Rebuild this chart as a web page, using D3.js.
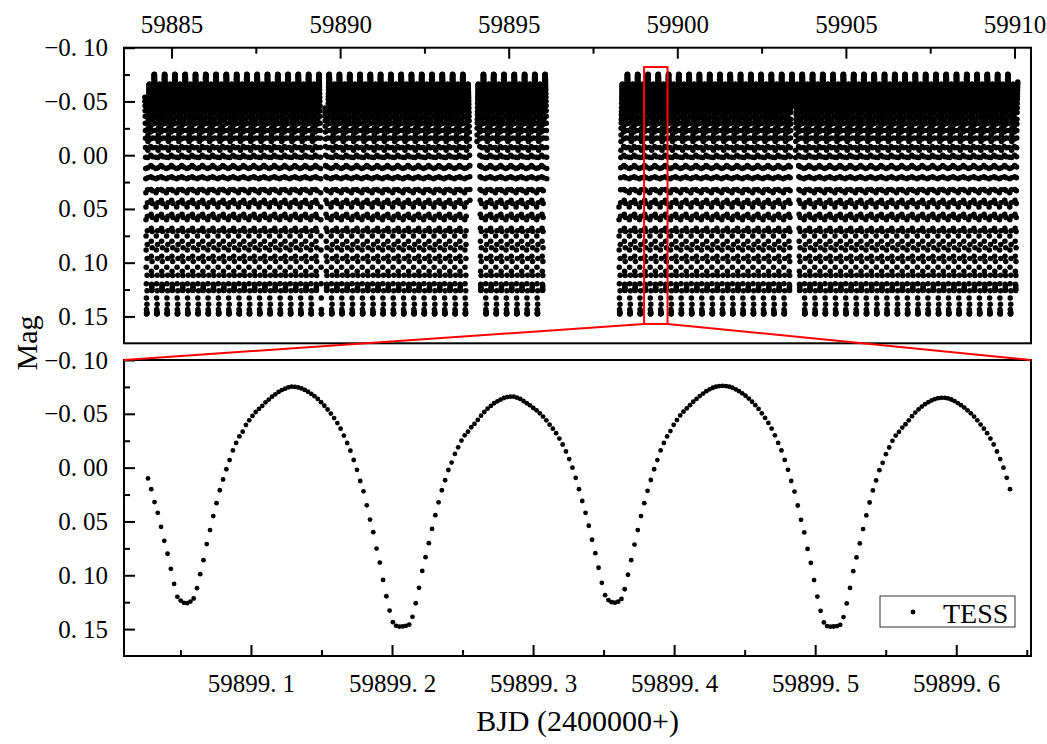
<!DOCTYPE html>
<html>
<head>
<meta charset="utf-8">
<script src="https://cdn.jsdelivr.net/npm/d3@7"></script>
<style>
  html, body { margin: 0; padding: 0; background: #fff; }
  svg { display: block; }
</style>
</head>
<body>
<svg id="chart" width="1047" height="744"></svg>
<script>
// TESS photometry: whole-sector light curve (top) and a zoomed stretch (bottom)

const cadence = 200 / 86400;      // days between exposures (200 s)
const zoomStart = 59899.027;      // BJD - 2400000 of the first point in the zoomed stretch
const period = 0.3050;            // orbital period in days, from the spacing of the minima

// magnitudes of consecutive exposures in the zoomed stretch
const zoomMags = [
  0.0100, 0.0200, 0.0320, 0.0420, 0.0550, 0.0680, 0.0800, 0.0940, 0.1080, 0.1200,
  0.1235, 0.1256, 0.1259, 0.1244, 0.1216, 0.1120, 0.0990, 0.0860, 0.0710, 0.0580,
  0.0450, 0.0330, 0.0210, 0.0110, 0.0015, -0.0070, -0.0160, -0.0230, -0.0290, -0.0334,
  -0.0396, -0.0440, -0.0480, -0.0517, -0.0545, -0.0573, -0.0607, -0.0632, -0.0659, -0.0681,
  -0.0703, -0.0721, -0.0734, -0.0746, -0.0752, -0.0750, -0.0745, -0.0736, -0.0722, -0.0705,
  -0.0686, -0.0664, -0.0638, -0.0608, -0.0575, -0.0540, -0.0502, -0.0460, -0.0414, -0.0362,
  -0.0298, -0.0229, -0.0158, -0.0071, 0.0020, 0.0124, 0.0220, 0.0350, 0.0483, 0.0600,
  0.0752, 0.0882, 0.1043, 0.1195, 0.1328, 0.1436, 0.1470, 0.1477, 0.1475, 0.1470,
  0.1458, 0.1386, 0.1260, 0.1117, 0.0960, 0.0832, 0.0702, 0.0569, 0.0442, 0.0322,
  0.0210, 0.0117, 0.0022, -0.0047, -0.0127, -0.0189, -0.0251, -0.0300, -0.0334, -0.0375,
  -0.0406, -0.0443, -0.0483, -0.0517, -0.0548, -0.0573, -0.0598, -0.0616, -0.0632, -0.0647,
  -0.0656, -0.0659, -0.0659, -0.0650, -0.0638, -0.0619, -0.0598, -0.0579, -0.0554, -0.0532,
  -0.0505, -0.0474, -0.0440, -0.0399, -0.0362, -0.0320, -0.0270, -0.0215, -0.0150, -0.0080,
  0.0000, 0.0095, 0.0200, 0.0310, 0.0420, 0.0540, 0.0670, 0.0795, 0.0930, 0.1070,
  0.1185, 0.1230, 0.1250, 0.1255, 0.1245, 0.1220, 0.1130, 0.0995, 0.0860, 0.0715,
  0.0580, 0.0450, 0.0330, 0.0215, 0.0115, 0.0015, -0.0070, -0.0160, -0.0230, -0.0290,
  -0.0340, -0.0398, -0.0442, -0.0485, -0.0520, -0.0550, -0.0580, -0.0612, -0.0638, -0.0665,
  -0.0688, -0.0710, -0.0728, -0.0742, -0.0752, -0.0758, -0.0760, -0.0758, -0.0752, -0.0742,
  -0.0728, -0.0710, -0.0690, -0.0668, -0.0642, -0.0612, -0.0580, -0.0545, -0.0505, -0.0462,
  -0.0415, -0.0363, -0.0300, -0.0230, -0.0160, -0.0072, 0.0020, 0.0124, 0.0222, 0.0352,
  0.0485, 0.0602, 0.0755, 0.0885, 0.1045, 0.1198, 0.1330, 0.1438, 0.1472, 0.1478,
  0.1476, 0.1472, 0.1460, 0.1388, 0.1262, 0.1118, 0.0962, 0.0834, 0.0704, 0.0571,
  0.0444, 0.0324, 0.0212, 0.0119, 0.0024, -0.0045, -0.0125, -0.0187, -0.0249, -0.0298,
  -0.0332, -0.0372, -0.0403, -0.0440, -0.0478, -0.0512, -0.0542, -0.0567, -0.0590, -0.0608,
  -0.0624, -0.0637, -0.0645, -0.0649, -0.0649, -0.0643, -0.0633, -0.0618, -0.0600, -0.0580,
  -0.0558, -0.0532, -0.0505, -0.0474, -0.0440, -0.0400, -0.0362, -0.0320, -0.0270, -0.0215,
  -0.0150, -0.0080, 0.0000, 0.0095, 0.0200
];

// continuous observing spans of the sector (BJD - 2400000)
const observingSpans = [
  [59884.21, 59889.45],
  [59889.55, 59893.85],
  [59894.06, 59896.13],
  [59898.27, 59903.43],
  [59903.51, 59910.10]
];

const sectorRange = [59883.59, 59910.49];
const zoomRange = [59899.01, 59899.653];
const magRange = [-0.10, 0.175];
const zoomBoxTime = [59899.015, 59899.71];
const zoomBoxMag = [-0.082, 0.157];

const sectorTicks = [59885, 59890, 59895, 59900, 59905, 59910];
const sectorMinorTicks = [59887.5, 59892.5, 59897.5, 59902.5, 59907.5];
const zoomTicks = [59899.1, 59899.2, 59899.3, 59899.4, 59899.5, 59899.6];
const zoomMinorTicks = [59899.05, 59899.15, 59899.25, 59899.35, 59899.45, 59899.55, 59899.65];
const magTicks = [-0.10, -0.05, 0.00, 0.05, 0.10, 0.15];
const magMinorTicks = [-0.075, -0.025, 0.025, 0.075, 0.125];

const legendLabel = "TESS";
const xTitle = "BJD (2400000+)";
const yTitle = "Mag";

// ---------------------------------------------------------------
const svg = d3.select("#chart");
const serif = "'Liberation Serif', 'Times New Roman', serif";
const plotLeft = 124, plotRight = 1031;
const topPanel = { y0: 47.7, y1: 343.3 };
const botPanel = { y0: 360, y1: 656 };
const dotR = 2.4;
const sectorDotR = 2.75;

const xTop = d3.scaleLinear().domain(sectorRange).range([plotLeft, plotRight]);
const yTop = d3.scaleLinear().domain(magRange).range([topPanel.y0, topPanel.y1]);
const xBot = d3.scaleLinear().domain(zoomRange).range([plotLeft, plotRight]);
const yBot = d3.scaleLinear().domain(magRange).range([botPanel.y0, botPanel.y1]);

// zoomed stretch: one point per exposure
const zoomPoints = zoomMags.map((m, i) => ({ t: zoomStart + i * cadence, m }));

// sector curve: every exposure of each span, phased onto the first cycle of the stretch
const cycleSteps = period / cadence;
const cycleMags = zoomMags.slice(0, Math.ceil(cycleSteps));
const sectorPoints = [];
observingSpans.forEach(([s, e]) => {
  const n = Math.floor((e - s) / cadence);
  for (let k = 0; k <= n; k++) {
    const t = s + k * cadence;
    const steps = (t - zoomStart) / cadence;
    const ph = ((steps % cycleSteps) + cycleSteps) % cycleSteps;
    const idx = Math.round(ph) % cycleMags.length;
    sectorPoints.push({ t, m: cycleMags[idx] });
  }
});

// number labels with the wide decimal point spacing
function splitNumber(textSel) {
  textSel.each(function () {
    const el = d3.select(this);
    const s = el.text();
    const parts = s.split(".");
    el.text(null);
    if (parts.length === 2) {
      el.append("tspan").text(parts[0] + ".");
      el.append("tspan").attr("dx", "0.24em").text(parts[1]);
    } else {
      el.append("tspan").text(s);
    }
  });
}
const magFmt = v => (v < 0 ? "\u2212" : "") + Math.abs(v).toFixed(2);

function styleAxis(g) {
  g.select(".domain").remove();
  g.attr("font-family", serif).attr("font-size", 25);
  g.selectAll("line").attr("stroke", "#000").attr("stroke-width", 2);
  g.selectAll("text").attr("fill", "#000");
}

// ---------------- top panel ----------------
const gTop = svg.append("g");
gTop.append("g")
  .selectAll("circle")
  .data(sectorPoints)
  .join("circle")
  .attr("cx", d => xTop(d.t))
  .attr("cy", d => yTop(d.m))
  .attr("r", sectorDotR)
  .attr("fill", "#000");

gTop.append("g")
  .attr("transform", `translate(0,${topPanel.y0})`)
  .call(d3.axisTop(xTop).tickValues(sectorTicks).tickFormat(d3.format("d")).tickSize(-11).tickPadding(15))
  .call(styleAxis);
gTop.append("g")
  .attr("transform", `translate(0,${topPanel.y0})`)
  .call(d3.axisTop(xTop).tickValues(sectorMinorTicks).tickFormat("").tickSize(-6))
  .call(styleAxis);

gTop.append("g")
  .attr("transform", `translate(${plotLeft},0)`)
  .call(d3.axisLeft(yTop).tickValues(magTicks).tickFormat(magFmt).tickSize(-11).tickPadding(16))
  .call(styleAxis)
  .call(g => g.selectAll("text").call(splitNumber));
gTop.append("g")
  .attr("transform", `translate(${plotLeft},0)`)
  .call(d3.axisLeft(yTop).tickValues(magMinorTicks).tickFormat("").tickSize(-6))
  .call(styleAxis);

gTop.append("rect")
  .attr("x", plotLeft).attr("y", topPanel.y0)
  .attr("width", plotRight - plotLeft).attr("height", topPanel.y1 - topPanel.y0)
  .attr("fill", "none").attr("stroke", "#000").attr("stroke-width", 2);

// ---------------- bottom panel ----------------
const gBot = svg.append("g");
gBot.append("g")
  .selectAll("circle")
  .data(zoomPoints)
  .join("circle")
  .attr("cx", d => xBot(d.t))
  .attr("cy", d => yBot(d.m))
  .attr("r", dotR)
  .attr("fill", "#000");

gBot.append("g")
  .attr("transform", `translate(0,${botPanel.y1})`)
  .call(d3.axisBottom(xBot).tickValues(zoomTicks).tickFormat(d3.format(".1f")).tickSize(-11).tickPadding(18))
  .call(styleAxis)
  .call(g => g.selectAll("text").call(splitNumber));
gBot.append("g")
  .attr("transform", `translate(0,${botPanel.y1})`)
  .call(d3.axisBottom(xBot).tickValues(zoomMinorTicks).tickFormat("").tickSize(-6))
  .call(styleAxis);

gBot.append("g")
  .attr("transform", `translate(${plotLeft},0)`)
  .call(d3.axisLeft(yBot).tickValues(magTicks).tickFormat(magFmt).tickSize(-11).tickPadding(16))
  .call(styleAxis)
  .call(g => g.selectAll("text").call(splitNumber));
gBot.append("g")
  .attr("transform", `translate(${plotLeft},0)`)
  .call(d3.axisLeft(yBot).tickValues(magMinorTicks).tickFormat("").tickSize(-6))
  .call(styleAxis);

gBot.append("rect")
  .attr("x", plotLeft).attr("y", botPanel.y0)
  .attr("width", plotRight - plotLeft).attr("height", botPanel.y1 - botPanel.y0)
  .attr("fill", "none").attr("stroke", "#000").attr("stroke-width", 2);

// legend
const lg = gBot.append("g");
lg.append("rect")
  .attr("x", 880).attr("y", 596).attr("width", 135).attr("height", 31)
  .attr("fill", "#fff").attr("stroke", "#333").attr("stroke-width", 1);
lg.append("circle").attr("cx", 913).attr("cy", 612).attr("r", dotR).attr("fill", "#000");
lg.append("text")
  .attr("x", 943).attr("y", 623)
  .attr("font-family", serif).attr("font-size", 28).attr("fill", "#000")
  .text(legendLabel);

// ---------------- zoom indicator ----------------
const zx0 = xTop(zoomBoxTime[0]), zx1 = xTop(zoomBoxTime[1]);
const zy0 = yTop(zoomBoxMag[0]), zy1 = yTop(zoomBoxMag[1]);
const gz = svg.append("g").attr("stroke", "#ff0000").attr("stroke-width", 2).attr("fill", "none");
gz.append("rect").attr("x", zx0).attr("y", zy0).attr("width", zx1 - zx0).attr("height", zy1 - zy0);
gz.append("line").attr("x1", zx0).attr("y1", zy1).attr("x2", plotLeft).attr("y2", botPanel.y0);
gz.append("line").attr("x1", zx1).attr("y1", zy1).attr("x2", plotRight).attr("y2", botPanel.y0);

// ---------------- axis titles ----------------
svg.append("text")
  .attr("x", (plotLeft + plotRight) / 2).attr("y", 731)
  .attr("text-anchor", "middle")
  .attr("font-family", serif).attr("font-size", 30).attr("fill", "#000")
  .text(xTitle);
svg.append("text")
  .attr("transform", `translate(37,343) rotate(-90)`)
  .attr("text-anchor", "middle")
  .attr("font-family", serif).attr("font-size", 30).attr("fill", "#000")
  .text(yTitle);
</script>
</body>
</html>
